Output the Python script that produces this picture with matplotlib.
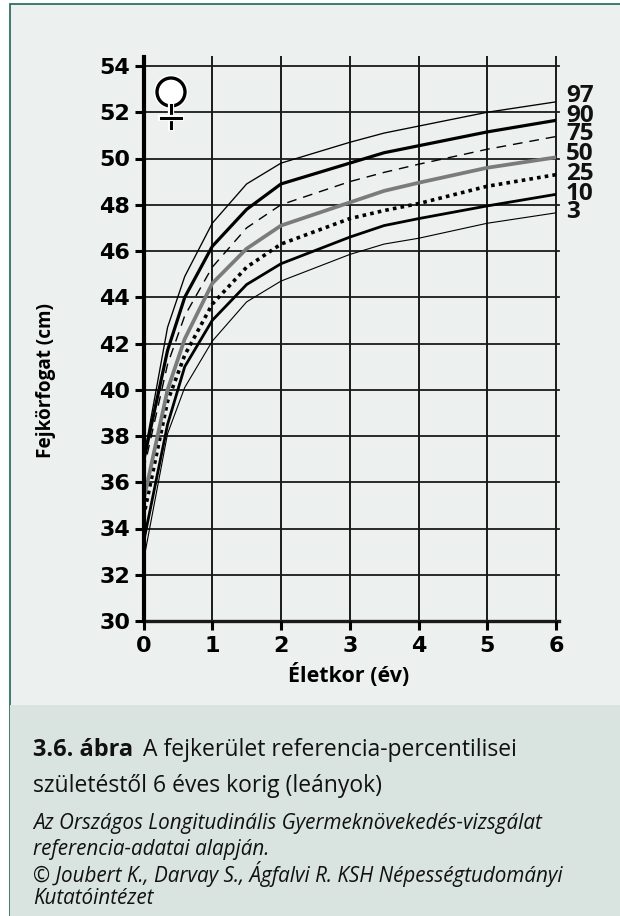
import matplotlib
matplotlib.use("Agg")
import matplotlib.pyplot as plt
from matplotlib.patches import Rectangle, Circle
from matplotlib.lines import Line2D
import matplotlib.patheffects as pe

age = [0, 0.35, 0.6, 1, 1.5, 2, 3, 3.5, 4, 5, 6]
p97 = [37.0, 42.7, 44.9, 47.2, 48.9, 49.8, 50.7, 51.1, 51.4, 52.0, 52.45]
p90 = [36.9, 41.7, 44.0, 46.2, 47.8, 48.9, 49.8, 50.25, 50.55, 51.15, 51.65]
p75 = [36.5, 41.1, 43.2, 45.3, 47.0, 48.0, 49.0, 49.4, 49.75, 50.4, 50.95]
p50 = [35.2, 40.0, 42.2, 44.6, 46.1, 47.1, 48.1, 48.6, 48.95, 49.6, 50.05]
p25 = [34.5, 39.5, 41.5, 43.7, 45.3, 46.3, 47.4, 47.75, 48.05, 48.8, 49.3]
p10 = [33.4, 38.5, 41.0, 43.0, 44.55, 45.45, 46.6, 47.1, 47.4, 47.95, 48.45]
p3 = [32.6, 38.1, 40.1, 42.1, 43.8, 44.7, 45.85, 46.3, 46.55, 47.2, 47.65]
x_ticks = [0, 1, 2, 3, 4, 5, 6]
y_ticks = [30, 32, 34, 36, 38, 40, 42, 44, 46, 48, 50, 52, 54]
percentile_labels = ["97", "90", "75", "50", "25", "10", "3"]
x_label = "Életkor (év)"
y_label = "Fejkörfogat (cm)"

W, H = 620, 916
fig = plt.figure(figsize=(W / 100, H / 100), dpi=100, facecolor="white")
UI = "Open Sans"

bg = fig.add_axes([0, 0, 1, 1], zorder=0)
bg.set_xlim(0, W); bg.set_ylim(H, 0); bg.axis("off")
bg.add_patch(Rectangle((9.5, 4), W, H, fc="#ECF0EF", ec="#2F6F66", lw=1.3))
bg.add_patch(Rectangle((10, 705), W, H - 705, fc="#D9E3E0", ec="none"))

L, R, T, B = 143.5, 556, 66, 621
ax = fig.add_axes([L / W, 1 - B / H, (R - L) / W, (B - T) / H], zorder=1)
ax.patch.set_alpha(0)
ax.set_xlim(0, 6); ax.set_ylim(30, 54)
for s in ax.spines.values():
    s.set_visible(False)
ax.set_xticks(x_ticks); ax.set_yticks(y_ticks)
ax.tick_params(axis="both", length=6.5, width=2.2, color="black", labelsize=16, pad=3)
ax.tick_params(axis="x", pad=4.5)
for t in ax.get_xticklabels() + ax.get_yticklabels():
    t.set_fontweight("bold"); t.set_family("DejaVu Sans")

for v in y_ticks:
    ax.add_line(Line2D([0, 1.007], [v, v], transform=ax.get_yaxis_transform(), color="#1a1a1a",
                       lw=2.4 if v == 30 else 1.3, clip_on=False, zorder=1))
for v in x_ticks:
    ax.add_line(Line2D([v, v], [0, 1.016], transform=ax.get_xaxis_transform(), color="black" if v == 0 else "#1a1a1a",
                       lw=3.0 if v == 0 else 1.4, clip_on=False, zorder=5 if v == 0 else 1))

ax.plot(age, p97, color="black", lw=0.95, zorder=3)
ax.plot(age, p90, color="black", lw=2.3, zorder=3)
ax.plot(age, p75, color="black", lw=1.0, dashes=(7, 5), zorder=3)
ax.plot(age, p50, color="#7b7b7b", lw=2.7, zorder=4)
ax.plot(age, p25, color="black", lw=2.6, dashes=(1, 1.15), zorder=3)
ax.plot(age, p10, color="black", lw=2.0, zorder=3)
ax.plot(age, p3, color="black", lw=0.8, zorder=3)

fig.text(349 / W, 1 - 675 / H, x_label, ha="center", va="center", family=UI, fontweight="bold", fontsize=15.5)
fig.text(46 / W, 1 - 380 / H, y_label, ha="center", va="center", rotation=90, family=UI, fontweight="bold", fontsize=13.7)

for lab, py in zip(percentile_labels, [95.5, 115.5, 134.5, 154.5, 173.5, 193.5, 212.5]):
    fig.text(566 / W, 1 - py / H, lab, ha="left", va="center", family=UI, fontweight="bold", fontsize=17.5, color="#111111", zorder=6)

# Venus symbol
sym = fig.add_axes([0, 0, 1, 1], zorder=3)
sym.set_xlim(0, W); sym.set_ylim(H, 0); sym.axis("off")
halo = [pe.Stroke(linewidth=4.5, foreground="white"), pe.Normal()]
sym.add_line(Line2D([171, 171], [105, 128], color="black", lw=2.2, path_effects=halo))
sym.add_line(Line2D([160.5, 181], [118, 118], color="black", lw=2.2, path_effects=halo))
sym.add_patch(Circle((171, 92), 14, fc="white", ec="black", lw=2.4, path_effects=[pe.Stroke(linewidth=4.5, foreground="white"), pe.Normal()]))

# Caption
fig.text(33 / W, 1 - 750 / H, "3.6. ábra", family=UI, fontweight="bold", fontsize=16.9, va="center", color="#111111")
fig.text(143 / W, 1 - 750 / H, "A fejkerület referencia-percentilisei", family=UI, fontsize=16.5, va="center", color="#111111")
fig.text(33 / W, 1 - 786 / H, "születéstől 6 éves korig (leányok)", family=UI, fontsize=16.5, va="center", color="#111111")
for s, py in zip(["Az Országos Longitudinális Gyermeknövekedés-vizsgálat",
                  "referencia-adatai alapján.",
                  "© Joubert K., Darvay S., Ágfalvi R. KSH Népességtudományi",
                  "Kutatóintézet"], [823, 849, 874, 899]):
    fig.text(33 / W, 1 - py / H, s, family=UI, style="italic", fontsize=14.9, va="center", color="#111111")

fig.savefig("out.png", dpi=100)
